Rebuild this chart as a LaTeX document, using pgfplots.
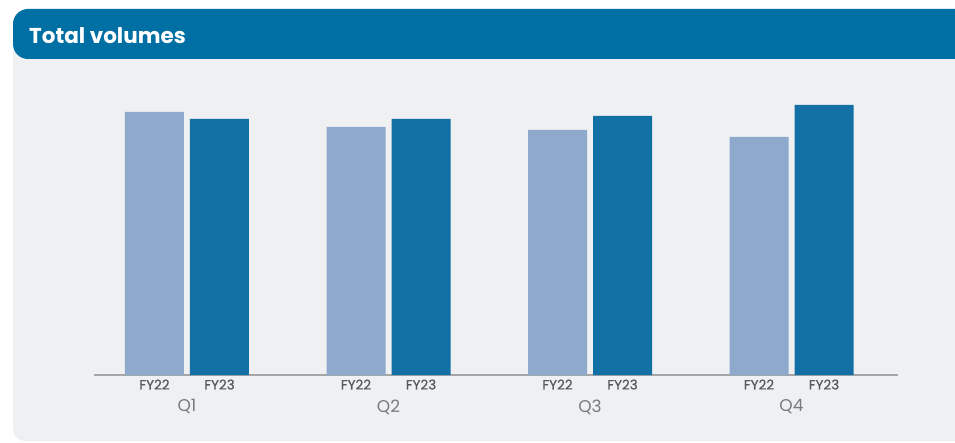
\documentclass[border=0pt]{standalone}
\usepackage{fontspec}
\setmainfont{Poppins}
\usepackage{pgfplots}
\pgfplotsset{compat=1.18}
\definecolor{hdr}{HTML}{0070A4}
\definecolor{panel}{HTML}{EFF0F2}
\definecolor{fyA}{HTML}{8EA9CB}
\definecolor{fyB}{HTML}{1370A4}
\definecolor{axl}{HTML}{A6A6A6}
\definecolor{txt}{HTML}{58595B}
\begin{document}
\begin{tikzpicture}[x=1pt,y=1pt]
\useasboundingbox (0,0) rectangle (955,442);
\fill[white] (0,0) rectangle (955,442);
\fill[panel, rounded corners=12pt] (13,1) rectangle (990,402);
\fill[hdr, rounded corners=15pt] (13,383) rectangle (990,433);
\node[anchor=west, text=white, font=\fontsize{21.5}{25}\selectfont\bfseries, inner sep=0pt] at (29,406.5) {Total volumes};
\begin{axis}[
  at={(94pt,67pt)}, anchor=south west,
  scale only axis, width=804pt, height=275pt,
  xmin=-0.4615, xmax=3.5285, ymin=0, ymax=275,
  axis y line=none, axis x line*=bottom,
  axis line style={axl, line width=1.2pt, -},
  ybar, bar width=59pt,
  xtick={-0.1613,0.1613,0.8387,1.1613,1.8387,2.1613,2.8387,3.1613},
  xticklabels={FY22,FY23,FY22,FY23,FY22,FY23,FY22,FY23},
  xticklabel style={font=\fontsize{13.5}{15}\selectfont\addfontfeatures{FakeBold=0.6}, text=txt, yshift=-1pt},
  major tick length=0pt,
  extra x ticks={0,1,2,3},
  extra x tick labels={Q1,Q2,Q3,Q4},
  extra x tick style={xticklabel style={font=\fontsize{17}{20}\selectfont, text=txt!80, yshift=-20pt}},
  clip=false,
]
\addplot[fill=fyA, draw=none, bar shift=-32.5pt] coordinates {(0,263) (1,248) (2,245) (3,238)};
\addplot[fill=fyB, draw=none, bar shift=32.5pt] coordinates {(0,256) (1,256) (2,259) (3,270)};
\end{axis}
\end{tikzpicture}
\end{document}
